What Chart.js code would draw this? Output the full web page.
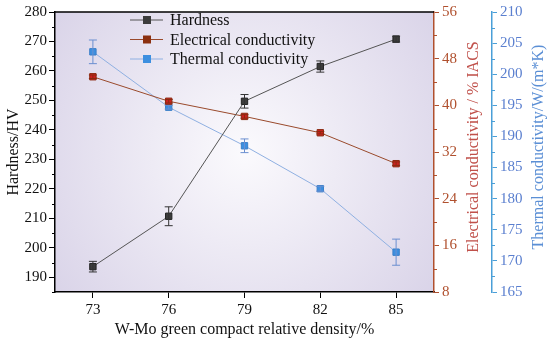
<!DOCTYPE html>
<html>
<head>
<meta charset="utf-8">
<script src="https://cdn.jsdelivr.net/npm/chart.js@4/dist/chart.umd.min.js"></script>
<style>
  html, body { margin: 0; padding: 0; background: #fff; }
  #wrap { width: 550px; height: 343px; position: relative; }
</style>
</head>
<body>
<div id="wrap"><canvas id="c"></canvas></div>
<script>
const density = [73, 76, 79, 82, 85];
const hardness = [193.6, 210.7, 249.7, 261.5, 270.8];
const hardnessErr = [1.8, 3.2, 2.3, 1.9, 1.0];
const electrical = [44.9, 40.7, 38.1, 35.3, 30.0];
const electricalErr = [0.3, 0.3, 0.3, 0.2, 0.3];
const thermal = [203.6, 194.7, 188.5, 181.6, 171.4];
const thermalErr = [1.9, 0.3, 1.1, 0.4, 2.1];

const xTicks = [73, 76, 79, 82, 85];
const hTicks = [190, 200, 210, 220, 230, 240, 250, 260, 270, 280];
const eTicks = [8, 16, 24, 32, 40, 48, 56];
const tTicks = [165, 170, 175, 180, 185, 190, 195, 200, 205, 210];

const serif = "'Liberation Serif', 'Times New Roman', serif";
const elecColor = "#b0502e";
const thermColor = "#4a9fd8";
const thermText = "#5a7fcf";

const pts = arr => arr.map((v, i) => ({ x: density[i], y: v }));

const series = [
  { label: "Hardness", data: hardness, err: hardnessErr, axis: "yH", line: "#555555", fill: "#3c3c3c", edge: "#222222", bar: "#333333" },
  { label: "Electrical conductivity", data: electrical, err: electricalErr, axis: "yE", line: "#9a4a2c", fill: "#cc2020", edge: "#8b2a10", bar: "#8b2a10", legendFill: "#8b3010" },
  { label: "Thermal conductivity", data: thermal, err: thermalErr, axis: "yT", line: "#8fb0e2", fill: "#3d8fe0", edge: "#3a7fc8", bar: "#6a8fd0" }
];

// radial lavender background, border, minor ticks, legend, right titles
const bgPlugin = {
  id: "bg",
  beforeDraw(chart) {
    const { ctx, chartArea: a } = chart;
    const cx = (a.left + a.right) / 2, cy = (a.top + a.bottom) / 2;
    const g = ctx.createRadialGradient(cx, cy, 0, cx, cy, 240);
    g.addColorStop(0, "#fbfafd");
    g.addColorStop(1, "#d9d3e8");
    ctx.save();
    ctx.fillStyle = g;
    ctx.fillRect(a.left, a.top, a.right - a.left, a.bottom - a.top);
    ctx.restore();
  },
  afterDraw(chart) {
    const { ctx, chartArea: a } = chart;
    ctx.save();
    ctx.strokeStyle = "#000";
    ctx.lineWidth = 1.5;
    ctx.beginPath();
    ctx.moveTo(a.left, a.top);
    ctx.lineTo(a.right, a.top);
    ctx.stroke();

    const minor = (scale, vals, x, dir, color) => {
      ctx.strokeStyle = color;
      ctx.lineWidth = 1;
      vals.forEach(v => {
        const y = Math.round(scale.getPixelForValue(v)) + 0.5;
        ctx.beginPath();
        ctx.moveTo(x, y);
        ctx.lineTo(x + dir * 3, y);
        ctx.stroke();
      });
    };
    const mids = t => t.slice(0, -1).map((v, i) => (v + t[i + 1]) / 2);
    minor(chart.scales.yH, [185].concat(mids(hTicks)), a.left, -1, "#000");
    minor(chart.scales.yE, mids(eTicks), chart.scales.yE.left, 1, elecColor);
    minor(chart.scales.yT, mids(tTicks), chart.scales.yT.left, 1, thermColor);

    // right-hand titles, read bottom to top
    const vTitle = (text, x, color) => {
      ctx.save();
      ctx.translate(x, 147);
      ctx.rotate(-Math.PI / 2);
      ctx.font = "16px " + serif;
      ctx.fillStyle = color;
      ctx.textAlign = "center";
      ctx.textBaseline = "middle";
      ctx.fillText(text, 0, 0);
      ctx.restore();
    };
    vTitle("Electrical conductivity / % IACS", 474, "#c0504a");
    vTitle("Thermal conductivity/W/(m*K)", 539, "#5b8fd5");

    // legend
    ctx.font = "16px " + serif;
    ctx.textBaseline = "middle";
    series.forEach((s, i) => {
      const y = 20 + i * 19.5;
      ctx.strokeStyle = s.line;
      ctx.lineWidth = 1;
      ctx.beginPath();
      ctx.moveTo(130, y);
      ctx.lineTo(163, y);
      ctx.stroke();
      ctx.fillStyle = s.legendFill || s.fill;
      ctx.fillRect(143, y - 4, 8, 8);
      ctx.fillStyle = "#111";
      ctx.fillText(s.label, 170, y + 1);
    });
    ctx.restore();
  }
};

// error bars drawn on the series' own scale
const errPlugin = {
  id: "err",
  afterDatasetsDraw(chart) {
    const { ctx } = chart;
    ctx.save();
    series.forEach(s => {
      const ys = chart.scales[s.axis], xs = chart.scales.x;
      ctx.strokeStyle = s.bar;
      ctx.lineWidth = 1;
      s.data.forEach((v, i) => {
        const x = xs.getPixelForValue(density[i]);
        const y1 = ys.getPixelForValue(v - s.err[i]);
        const y2 = ys.getPixelForValue(v + s.err[i]);
        ctx.beginPath();
        ctx.moveTo(x, y1); ctx.lineTo(x, y2);
        ctx.moveTo(x - 4, y1); ctx.lineTo(x + 4, y1);
        ctx.moveTo(x - 4, y2); ctx.lineTo(x + 4, y2);
        ctx.stroke();
      });
    });
    ctx.restore();
  }
};

const setTicks = vals => scale => { scale.ticks = vals.map(v => ({ value: v })); };

new Chart(document.getElementById("c"), {
  type: "line",
  data: {
    datasets: series.map(s => ({
      label: s.label,
      data: pts(s.data),
      yAxisID: s.axis,
      borderColor: s.line,
      borderWidth: 1,
      pointStyle: "rect",
      pointRadius: 4.5,
      pointBackgroundColor: s.fill,
      pointBorderColor: s.edge,
      pointBorderWidth: 1,
      tension: 0
    }))
  },
  options: {
    responsive: true,
    maintainAspectRatio: false,
    animation: false,
    layout: { padding: { top: 11, left: 0, right: 0, bottom: 0 } },
    plugins: { legend: { display: false }, tooltip: { enabled: false } },
    scales: {
      x: {
        type: "linear",
        min: 71.5,
        max: 86.5,
        afterBuildTicks: setTicks(xTicks),
        afterFit: s => { s.height = 51; },
        grid: { drawOnChartArea: false, tickLength: 6, color: "#000" },
        border: { color: "#000", width: 1.5 },
        ticks: { color: "#111", font: { family: serif, size: 15 }, padding: 3 },
        title: { display: true, text: "W-Mo green compact relative density/%", color: "#111", font: { family: serif, size: 16 }, padding: { top: 0 } }
      },
      yH: {
        position: "left",
        min: 185,
        max: 280,
        afterBuildTicks: setTicks(hTicks),
        afterFit: s => { s.width = 55; },
        grid: { drawOnChartArea: false, tickLength: 6, color: "#000" },
        border: { color: "#000", width: 1.5 },
        ticks: { color: "#111", font: { family: serif, size: 15 }, padding: 2 },
        title: { display: true, text: "Hardness/HV", color: "#111", font: { family: serif, size: 16 }, padding: { bottom: 0 } }
      },
      yE: {
        position: "right",
        min: 8,
        max: 56,
        afterBuildTicks: setTicks(eTicks),
        afterFit: s => { s.width = 58; },
        grid: { drawOnChartArea: false, tickLength: 5, color: elecColor },
        border: { color: elecColor, width: 1.5 },
        ticks: { color: elecColor, font: { family: serif, size: 15 }, padding: 3 }
      },
      yT: {
        position: "right",
        min: 165,
        max: 210,
        afterBuildTicks: setTicks(tTicks),
        afterFit: s => { s.width = 58; },
        grid: { drawOnChartArea: false, tickLength: 5, color: thermColor },
        border: { color: thermColor, width: 1.5 },
        ticks: { color: thermText, font: { family: serif, size: 15 }, padding: 3 }
      }
    }
  },
  plugins: [bgPlugin, errPlugin]
});
</script>
</body>
</html>
